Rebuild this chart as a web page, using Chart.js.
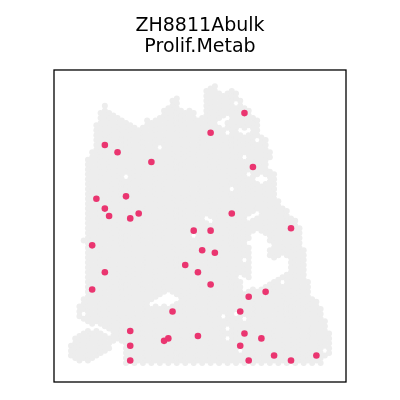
<!DOCTYPE html>
<html>
<head>
<meta charset="utf-8">
<script src="https://cdn.jsdelivr.net/npm/chart.js@4/dist/chart.umd.min.js"></script>
<style>
  html, body { margin: 0; padding: 0; background: #ffffff; }
  #wrap { width: 400px; height: 400px; }
</style>
</head>
<body>
<div id="wrap"><canvas id="c" width="400" height="400"></canvas></div>
<script>
// Title lines
const titleLines = ['ZH8811Abulk', 'Prolif.Metab'];

// Tissue spots: for each grid column (index = column), the runs of spot rows [from, to]
// (odd columns sit on half rows, hex layout).
const tissueRuns = [
  [[56,58]],                         // 0
  [[54.5,58.5]],                     // 1
  [[48,50],[54,59]],                 // 2
  [[34.5,34.5],[46.5,50.5],[53.5,58.5]], // 3
  [[18,51],[53,59]],                 // 4
  [[16.5,51.5],[53.5,58.5]],         // 5
  [[11,51],[53,58]],                 // 6
  [[8.5,51.5],[53.5,57.5]],          // 7
  [[7,52],[54,57]],                  // 8
  [[8.5,52.5],[54.5,56.5]],          // 9
  [[9,55]],                          // 10
  [[9.5,54.5]],                      // 11
  [[10,55]],                         // 12
  [[10.5,59.5]],                     // 13
  [[11,59]],                         // 14
  [[11.5,59.5]],                     // 15
  [[12,59]],                         // 16
  [[11.5,59.5]],                     // 17
  [[10,59]],                         // 18
  [[10.5,59.5]],                     // 19
  [[10,59]],                         // 20
  [[9.5,59.5]],                      // 21
  [[8,59]],                          // 22
  [[7.5,59.5]],                      // 23
  [[6,59]],                          // 24
  [[5.5,59.5]],                      // 25
  [[8,59]],                          // 26
  [[8.5,59.5]],                      // 27
  [[8,59]],                          // 28
  [[8.5,59.5]],                      // 29
  [[10,59]],                         // 30
  [[9.5,59.5]],                      // 31
  [[4,59]],                          // 32
  [[3.5,59.5]],                      // 33
  [[3,59]],                          // 34
  [[4.5,59.5]],                      // 35
  [[5,59]],                          // 36
  [[4.5,59.5]],                      // 37
  [[4,59]],                          // 38
  [[4.5,59.5]],                      // 39
  [[6,59]],                          // 40
  [[7.5,59.5]],                      // 41
  [[8,59]],                          // 42
  [[9.5,59.5]],                      // 43
  [[10,59]],                         // 44
  [[13.5,59.5]],                     // 45
  [[14,59]],                         // 46
  [[16.5,17.5],[20.5,59.5]],         // 47
  [[21,59]],                         // 48
  [[26.5,59.5]],                     // 49
  [[28,59]],                         // 50
  [[28.5,59.5]],                     // 51
  [[30,59]],                         // 52
  [[30.5,59.5]],                     // 53
  [[32,59]],                         // 54
  [[36.5,59.5]],                     // 55
  [[43,59]],                         // 56
  [[46.5,59.5]],                     // 57
  [[47,59]],                         // 58
  [[48.5,59.5]],                     // 59
  [[51,58]],                         // 60
  [[53.5,57.5]]                      // 61
];

// Empty spots inside the tissue: [column, fromRow, toRow]
const tissueHoles = [
  [3,49.5,49.5],[13,21.5,21.5],[19,47.5,47.5],[20,47,47],
  [21,15.5,15.5],[21,46.5,47.5],[22,46,47],[23,45.5,47.5],[24,46,47],[25,46.5,46.5],
  [29,33.5,33.5],[32,30,30],[33,30.5,30.5],[35,10.5,10.5],
  [36,10,11],[36,50,50],
  [37,9.5,9.5],[37,12.5,12.5],[37,52.5,52.5],[37,54.5,54.5],
  [38,24,24],[39,6.5,6.5],[39,49.5,49.5],
  [40,12,12],[40,42,42],[40,57,57],
  [41,12.5,12.5],[41,17.5,17.5],[41,38.5,38.5],[41,42.5,44.5],[41,50.5,50.5],
  [42,12,12],[42,21,21],[42,30,30],[42,35,35],[42,43,44],
  [43,29.5,29.5],[43,33.5,43.5],
  [44,14,14],[44,22,22],[44,29,29],[44,33,44],
  [45,21.5,22.5],[45,33.5,43.5],
  [46,22,22],[46,34,43],
  [47,35.5,35.5],[47,38.5,42.5],
  [48,39,42],
  [49,38.5,41.5],
  [50,38,41],[50,43,43],
  [51,38.5,40.5],
  [60,57,57]
];

// Highlighted (Prolif.Metab) spots
const pinkCol = [8,11,19,41,33,43,6,13,8,9,14,16,29,31,5,27,30,8,38,33,52,34,33,5,24,14,30,22,23,14,14,46,42,40,41,45,40,42,48,52,58];
const pinkRow = [15,16.5,18.5,8.5,12.5,19.5,26,25.5,28,29.5,30,29,32.5,36.5,35.5,39.5,41,41,29,32.5,32,37,43.5,44.5,49,53,54,55,54.5,56,59,45,46,49,53.5,54.5,56,59,58,59,58];

// Build datasets from the arrays
function isHole(c, v) {
  for (const h of tissueHoles) {
    if (h[0] === c && v >= h[1] - 1e-6 && v <= h[2] + 1e-6) return true;
  }
  return false;
}
const greyPts = [];
tissueRuns.forEach((runs, c) => {
  runs.forEach(([a, b]) => {
    for (let v = a; v <= b + 1e-6; v += 1) {
      if (!isHole(c, v)) greyPts.push({ x: c, y: v });
    }
  });
});
const pinkPts = pinkCol.map((c, i) => ({ x: c, y: pinkRow[i] }));

const boxPlugin = {
  id: 'box',
  afterDraw(chart) {
    const a = chart.chartArea, ctx = chart.ctx;
    ctx.save();
    ctx.strokeStyle = '#000000';
    ctx.lineWidth = 1.3;
    ctx.strokeRect(a.left, a.top, a.right - a.left, a.bottom - a.top);
    ctx.restore();
  }
};

new Chart(document.getElementById('c'), {
  type: 'scatter',
  data: {
    datasets: [
      { label: 'tissue', data: greyPts, order: 2, pointRadius: 3, pointBorderWidth: 0,
        backgroundColor: '#ededed', borderColor: '#ededed', pointHoverRadius: 3 },
      { label: 'Prolif.Metab', data: pinkPts, order: 1, pointRadius: 3.3, pointBorderWidth: 0,
        backgroundColor: '#ea3570', borderColor: '#ea3570', pointHoverRadius: 3.3 }
    ]
  },
  options: {
    responsive: false,
    animation: false,
    events: [],
    devicePixelRatio: 1,
    layout: { padding: { left: 54, right: 54, top: 16, bottom: 18 } },
    scales: {
      x: { type: 'linear', display: false, min: -4.02, max: 65.0 },
      y: { type: 'linear', display: false, min: -0.3, max: 63.4, reverse: true }
    },
    plugins: {
      legend: { display: false },
      tooltip: { enabled: false },
      title: {
        display: true,
        text: titleLines,
        color: '#000000',
        font: { family: 'DejaVu Sans', size: 19, weight: 'normal', lineHeight: 1.105 },
        padding: { top: 0, bottom: 12 }
      }
    }
  },
  plugins: [boxPlugin]
});
</script>
</body>
</html>
